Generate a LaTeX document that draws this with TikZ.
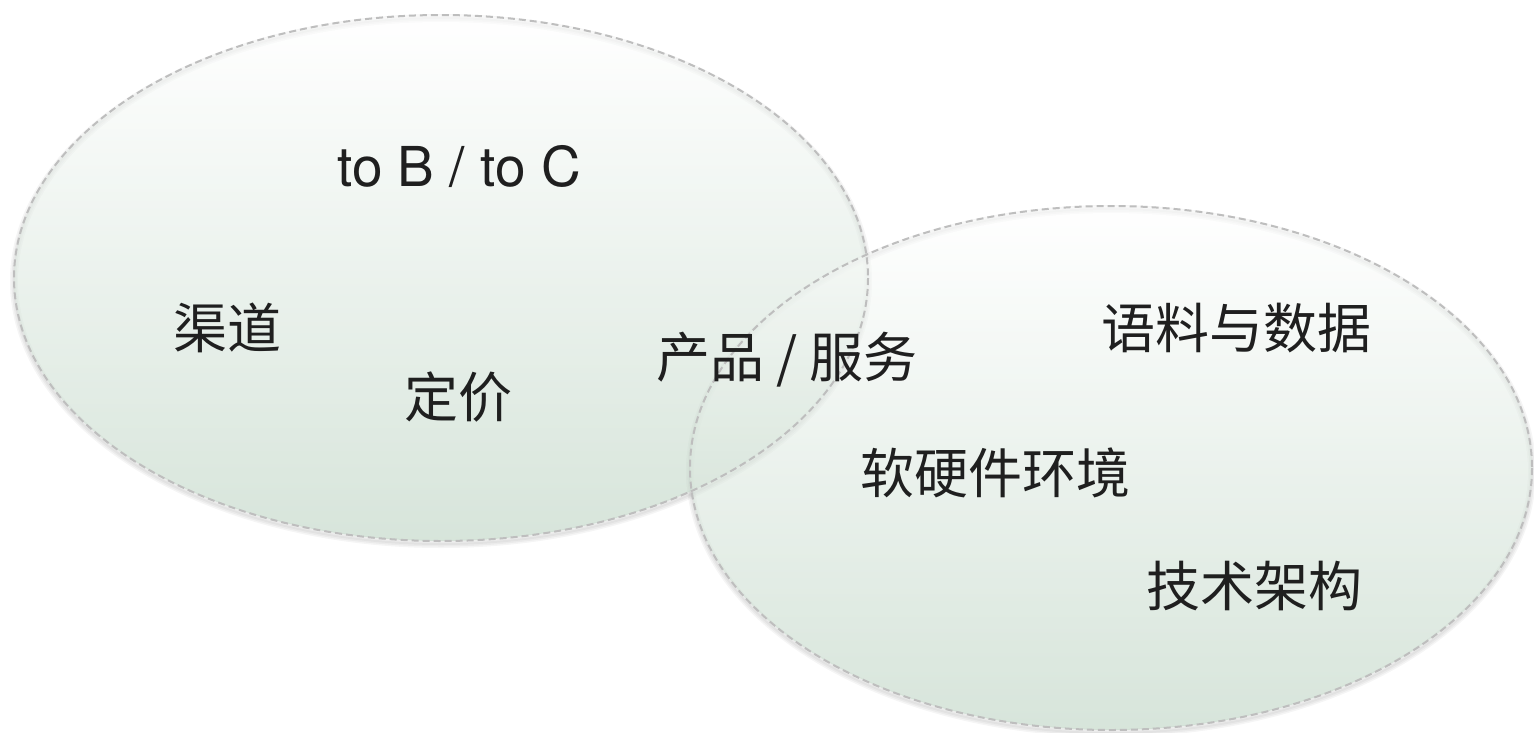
\documentclass[tikz,border=0pt]{standalone}
\usepackage{fontspec}
\setmainfont{TeX Gyre Heros}
\newfontfamily\cjk{Noto Sans CJK SC}
\definecolor{blobgreen}{RGB}{188,211,194}
\definecolor{rimgray}{RGB}{190,190,190}
\begin{document}
\begin{tikzpicture}[x=1pt,y=-1pt,
  blobfill/.style={top color=white, bottom color=blobgreen, opacity=0.6},
  blobrim/.style={draw=rimgray, line width=2pt, dash pattern=on 7pt off 4pt},
  blobshadow/.style={draw=black, opacity=0.04, line width=#1},
  lbl/.style={font=\cjk\fontsize{54}{60}\selectfont, text=black!88, inner sep=0pt},
  latin/.style={font=\fontsize{55}{60}\selectfont, text=black!88, inner sep=0pt}]
\useasboundingbox (0,0) rectangle (1534,732);
% soft shadows
\foreach \w in {2,5,8}{
  \draw[blobshadow=\w pt] (441,281) ellipse [x radius=427, y radius=263];
  \draw[blobshadow=\w pt] (1111,471) ellipse [x radius=421, y radius=262];
}
% fills
\shade[blobfill] (441,278) ellipse [x radius=427, y radius=263];
\shade[blobfill] (1111,468) ellipse [x radius=421, y radius=262];
% rims
\draw[blobrim] (441,278) ellipse [x radius=427, y radius=263];
\draw[blobrim] (1111,468) ellipse [x radius=421, y radius=262];
% labels
\node[latin] (tobc) at (459,167) {to B / to C};
\node[lbl] (qudao) at (227,328) {渠道};
\node[lbl] (dingjia) at (458,397) {定价};
\node[lbl] (chanpin) at (787,360) {产品 / 服务};
\node[lbl] (yuliao) at (1236,328) {语料与数据};
\node[lbl] (ruanying) at (995,473) {软硬件环境};
\node[lbl] (jishu) at (1254,586) {技术架构};
\end{tikzpicture}
\end{document}
